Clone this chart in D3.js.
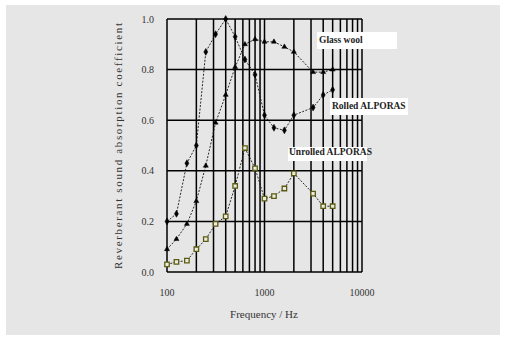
<!DOCTYPE html>
<html>
<head>
<meta charset="utf-8">
<script src="https://cdn.jsdelivr.net/npm/d3@7"></script>
<style>
  body { margin: 0; background: #fff; }
  text { font-family: "Liberation Serif", "DejaVu Serif", serif; }
</style>
</head>
<body>
<div id="chart"></div>
<script>
var width = 507,
    height = 337;

// one-third octave bands (2500 Hz not measured)
var freqs = [100, 125, 160, 200, 250, 315, 400, 500, 630, 800, 1000, 1250, 1600, 2000, 3150, 4000, 5000];
var rolled = [0.20, 0.23, 0.43, 0.50, 0.87, 0.94, 1.00, 0.93, 0.84, 0.78, 0.62, 0.57, 0.56, 0.62, 0.65, 0.70, 0.72];
var glasswool = [0.09, 0.13, 0.19, 0.28, 0.42, 0.59, 0.70, 0.81, 0.90, 0.92, 0.91, 0.91, 0.89, 0.87, 0.79, 0.79, 0.80];
var unrolled = [0.03, 0.04, 0.045, 0.09, 0.13, 0.19, 0.22, 0.34, 0.49, 0.41, 0.29, 0.30, 0.33, 0.39, 0.31, 0.26, 0.26];
var yTicks = [0, 0.2, 0.4, 0.6, 0.8, 1.0];
var xTickLabels = [100, 1000, 10000];

var svg = d3.select("#chart").append("svg")
    .attr("width", width)
    .attr("height", height)

svg.append("rect")
    .attr("x", 6).attr("y", 5)
    .attr("width", 494).attr("height", 330)
    .attr("fill", "#e6e6e6")

var x = d3.scaleLog().domain([100, 10000]).range([167, 362]);
var y = d3.scaleLinear().domain([0, 1]).range([272, 19]);

// grid
var grid = svg.append("g").attr("stroke", "#000").attr("stroke-width", 1.5)
grid.selectAll("line.v")
    .data(x.ticks())
    .enter().append("line")
    .attr("x1", function(d) { return x(d) })
    .attr("x2", function(d) { return x(d) })
    .attr("y1", y(0)).attr("y2", y(1))
grid.selectAll("line.h")
    .data(yTicks)
    .enter().append("line")
    .attr("x1", x(100)).attr("x2", x(10000))
    .attr("y1", function(d) { return y(d) })
    .attr("y2", function(d) { return y(d) })

// tick labels
svg.selectAll("text.yt")
    .data(yTicks)
    .enter().append("text")
    .attr("x", 154)
    .attr("y", function(d) { return y(d) + 3.5 })
    .attr("text-anchor", "end")
    .style("font-size", "10px")
    .attr("fill", "#333")
    .text(function(d) { return d3.format(".1f")(d) })

svg.selectAll("text.xt")
    .data(xTickLabels)
    .enter().append("text")
    .attr("x", function(d) { return x(d) })
    .attr("y", 296)
    .attr("text-anchor", "middle")
    .style("font-size", "10px")
    .attr("fill", "#333")
    .text(function(d) { return d })

svg.append("text")
    .attr("x", 264).attr("y", 318)
    .attr("text-anchor", "middle")
    .style("font-size", "11px")
    .attr("fill", "#333")
    .text("Frequency / Hz")

svg.append("text")
    .attr("transform", "translate(122,146) rotate(-90)")
    .attr("text-anchor", "middle")
    .style("font-size", "11px")
    .attr("fill", "#333")
    .attr("textLength", 246)
    .attr("lengthAdjust", "spacing")
    .text("Reverberant sound absorption coefficient")

// series
var line = d3.line()
    .x(function(d) { return x(d[0]) })
    .y(function(d) { return y(d[1]) })

function drawSeries(vals, color, shape, size, fill, sw) {
    var pts = freqs.map(function(f, i) { return [f, vals[i]] })
    svg.append("path")
        .datum(pts)
        .attr("d", line)
        .attr("fill", "none")
        .attr("stroke", "#111")
        .attr("stroke-width", 0.9)
        .attr("stroke-dasharray", "2,1.5")
    svg.selectAll(null)
        .data(pts)
        .enter().append("path")
        .attr("transform", function(d) { return "translate(" + x(d[0]) + "," + y(d[1]) + ")" })
        .attr("d", d3.symbol().type(shape).size(size)())
        .attr("fill", fill)
        .attr("stroke", color)
        .attr("stroke-width", sw)
}

drawSeries(rolled, "#000", d3.symbolDiamond, 14, "#000", 0.5)
drawSeries(glasswool, "#000", d3.symbolTriangle, 11, "#000", 0.5)
drawSeries(unrolled, "#5a5a12", d3.symbolSquare, 20, "#ececdc", 1.3)

// labels
var labels = [
    { t: "Glass wool", x: 317, y: 32, w: 80, h: 17, tx: 319, ty: 43 },
    { t: "Rolled ALPORAS", x: 330, y: 98, w: 78, h: 17, tx: 332, ty: 109 },
    { t: "Unrolled ALPORAS", x: 288, y: 147, w: 79, h: 14, tx: 289, ty: 155 }
]
labels.forEach(function(l) {
    svg.append("rect")
        .attr("x", l.x).attr("y", l.y)
        .attr("width", l.w).attr("height", l.h)
        .attr("fill", "#fff")
    svg.append("text")
        .attr("x", l.tx).attr("y", l.ty)
        .style("font-size", "9.5px")
        .attr("font-weight", "bold")
        .attr("fill", "#222")
        .text(l.t)
})
</script>
</body>
</html>
